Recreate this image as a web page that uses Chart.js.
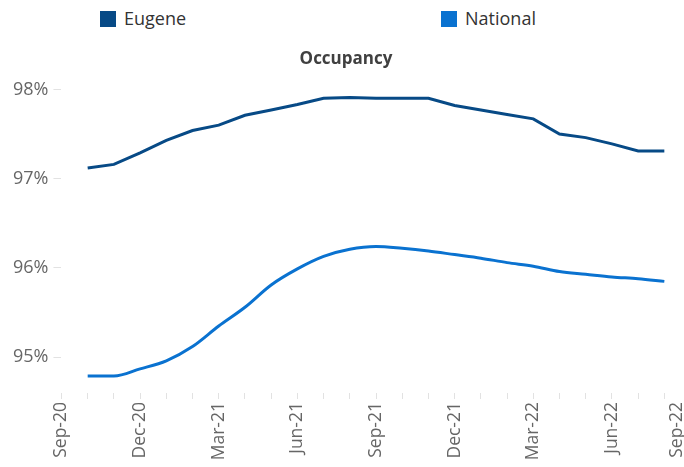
<!DOCTYPE html>
<html>
<head>
<meta charset="utf-8">
<script src="https://cdn.jsdelivr.net/npm/chart.js@4"></script>
<style>
  html, body { margin: 0; padding: 0; background: #fff; }
  body { width: 684px; height: 467px; overflow: hidden; position: relative; font-family: 'Open Sans', sans-serif; }
  #wrap { position: absolute; left: 0; top: 0; width: 684px; height: 467px; }
  .leg { position: absolute; top: 6px; font-size: 18px; color: #333; line-height: 24px; white-space: nowrap; }
  .leg i { display: inline-block; width: 16px; height: 16px; vertical-align: -2px; margin-right: 8px; }
</style>
</head>
<body>
<div class="leg" style="left:100px"><i style="background:#074a86"></i>Eugene</div>
<div class="leg" style="left:441px"><i style="background:#0a72d0"></i>National</div>
<div id="wrap"><canvas id="chart"></canvas></div>
<script>
// months on the x axis, Sep-20 .. Sep-22
const months = ['Sep-20', 'Oct-20', 'Nov-20', 'Dec-20', 'Jan-21', 'Feb-21', 'Mar-21', 'Apr-21', 'May-21',
    'Jun-21', 'Jul-21', 'Aug-21', 'Sep-21', 'Oct-21', 'Nov-21', 'Dec-21', 'Jan-22', 'Feb-22', 'Mar-22',
    'Apr-22', 'May-22', 'Jun-22', 'Jul-22', 'Aug-22', 'Sep-22'];

// occupancy (%) Oct-20 .. Aug-22
const eugene = [97.12, 97.16, 97.29, 97.43, 97.54, 97.60, 97.71, 97.77, 97.83, 97.90, 97.91,
    97.90, 97.90, 97.90, 97.82, 97.77, 97.72, 97.67, 97.50, 97.46, 97.39, 97.31, 97.31];
const national = [94.79, 94.79, 94.87, 94.96, 95.12, 95.35, 95.56, 95.81, 95.99, 96.13, 96.21,
    96.24, 96.22, 96.19, 96.15, 96.11, 96.06, 96.02, 95.96, 95.93, 95.90, 95.88, 95.85];

const yTicks = [95, 96, 97, 98];

const FONT = "'Open Sans', sans-serif";
const toPoints = (arr) => arr.map((v, i) => ({ x: i + 1, y: v }));

new Chart(document.getElementById('chart'), {
    type: 'line',
    data: {
        datasets: [
            {
                label: 'Eugene',
                data: toPoints(eugene),
                borderColor: '#074a86',
                borderWidth: 3,
                pointRadius: 0,
                tension: 0,
            },
            {
                label: 'National',
                data: toPoints(national),
                borderColor: '#0a72d0',
                borderWidth: 3,
                pointRadius: 0,
                cubicInterpolationMode: 'monotone',
            },
        ],
    },
    options: {
        responsive: true,
        maintainAspectRatio: false,
        animation: false,
        layout: { padding: { top: 35, left: 8, right: 0, bottom: 2 } },
        plugins: {
            legend: { display: false },
            tooltip: { enabled: false },
            title: {
                display: true,
                text: 'Occupancy',
                color: '#404040',
                font: { family: FONT, size: 17, weight: 'bold' },
                padding: { top: 14, bottom: 20 },
            },
        },
        scales: {
            x: {
                type: 'linear',
                min: 0,
                max: 23.75,
                // last label sits a bit inside the edge, like the original
                afterBuildTicks: (s) => { s.ticks = months.map((_, i) => ({ value: i === months.length - 1 ? 23.5 : i })); },
                afterFit: (s) => { s.paddingLeft = 0; s.paddingRight = 0; s.height = 72; },
                border: { display: false },
                grid: {
                    drawOnChartArea: false,
                    tickLength: 6,
                    color: (ctx) => (ctx.index === months.length - 1 ? 'rgba(0,0,0,0)' : '#e2e2e2'),
                },
                ticks: {
                    autoSkip: false,
                    minRotation: 90,
                    maxRotation: 90,
                    padding: 3,
                    color: '#666',
                    font: { family: FONT, size: 17.5 },
                    callback: (v, i) => (i % 3 === 0 ? months[i] : ''),
                },
            },
            y: {
                min: 94.6,
                max: 98,
                afterBuildTicks: (s) => { s.ticks = yTicks.map((v) => ({ value: v })); },
                border: { display: false },
                grid: { drawOnChartArea: false, tickLength: 8, color: '#e2e2e2' },
                ticks: {
                    padding: 5,
                    color: '#666',
                    font: { family: FONT, size: 18 },
                    callback: (v) => v + '%',
                },
            },
        },
    },
});
</script>
</body>
</html>
